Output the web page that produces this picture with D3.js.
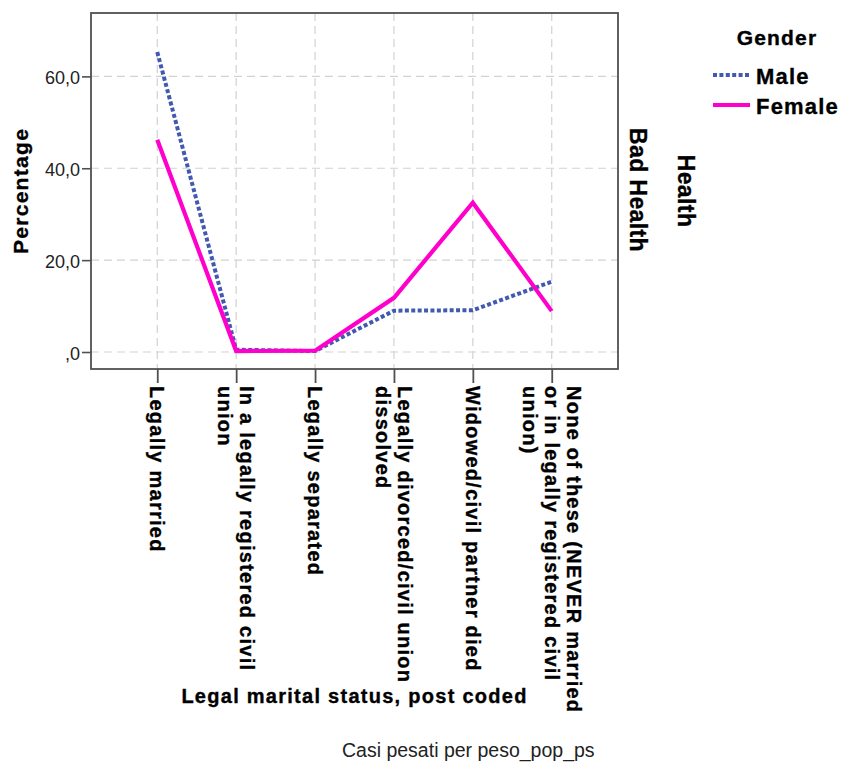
<!DOCTYPE html>
<html>
<head>
<meta charset="utf-8">
<script src="https://cdn.jsdelivr.net/npm/d3@7"></script>
<style>
  html, body { margin: 0; padding: 0; background: #fff; }
  svg { display: block; font-family: "Liberation Sans", Arial, sans-serif; }
  .b { font-weight: bold; stroke: #000; stroke-width: 0.35px; }
</style>
</head>
<body>
<svg id="chart" width="841" height="762"></svg>
<script>
const categories = [
  "Legally married",
  "In a legally registered civil union",
  "Legally separated",
  "Legally divorced/civil union dissolved",
  "Widowed/civil partner died",
  "None of these (NEVER married or in legally registered civil union)"
];
const categoryLabelLines = [
  ["Legally married"],
  ["In a legally registered civil", "union"],
  ["Legally separated"],
  ["Legally divorced/civil union", "dissolved"],
  ["Widowed/civil partner died"],
  ["None of these (NEVER married", "or in legally registered civil", "union)"]
];
const maleValues = [65.3, 0.5, 0.2, 9.0, 9.1, 15.3];
const femaleValues = [46.2, 0.2, 0.3, 11.8, 32.5, 8.9];
const yTicks = [0, 20, 40, 60];
const yTickLabels = [",0", "20,0", "40,0", "60,0"];
const seriesNames = ["Male", "Female"];

const svg = d3.select("#chart");
const frame = { left: 91, right: 618, top: 13, bottom: 369 };

const x = d3.scalePoint().domain(categories).range([frame.left, frame.right]).padding(0.84);
const y = d3.scaleLinear().domain([-3.7, 73.8]).range([frame.bottom, frame.top]);

const gridColor = "#d2d2d2";
const axisColor = "#505050";

// gridlines
const grid = svg.append("g");
grid.selectAll("line.h").data(yTicks).join("line")
  .attr("x1", frame.left).attr("x2", frame.right)
  .attr("y1", d => y(d)).attr("y2", d => y(d))
  .attr("stroke", gridColor).attr("stroke-width", 1.2).attr("stroke-dasharray", "8,5");
grid.selectAll("line.v").data(categories).join("line")
  .attr("x1", d => x(d)).attr("x2", d => x(d))
  .attr("y1", frame.top).attr("y2", frame.bottom)
  .attr("stroke", gridColor).attr("stroke-width", 1.2).attr("stroke-dasharray", "8,5");

// lines
const line = d3.line().x((d, i) => x(categories[i])).y(d => y(d));
svg.append("path").datum(maleValues)
  .attr("d", line).attr("fill", "none")
  .attr("stroke", "#4159b0").attr("stroke-width", 4).attr("stroke-dasharray", "4,2.4");
svg.append("path").datum(femaleValues)
  .attr("d", line).attr("fill", "none")
  .attr("stroke", "#ff00cc").attr("stroke-width", 4.2).attr("stroke-linejoin", "miter");

// frame
svg.append("rect")
  .attr("x", frame.left).attr("y", frame.top)
  .attr("width", frame.right - frame.left).attr("height", frame.bottom - frame.top)
  .attr("fill", "none").attr("stroke", axisColor).attr("stroke-width", 1.8);

// y axis
const yAxis = d3.axisLeft(y).tickValues(yTicks).tickSize(9).tickPadding(2)
  .tickFormat((d, i) => yTickLabels[i]);
const gy = svg.append("g").attr("transform", `translate(${frame.left},0)`).call(yAxis);
gy.select(".domain").remove();
gy.selectAll(".tick line").attr("stroke", axisColor).attr("stroke-width", 1.6);
gy.selectAll(".tick text").attr("fill", "#222").style("font-size", "18px")
  .style("font-family", "'Liberation Sans', Arial, sans-serif").attr("dy", "0.42em");

// x axis ticks
const xAxis = d3.axisBottom(x).tickSize(14).tickFormat("");
const gx = svg.append("g").attr("transform", `translate(0,${frame.bottom})`).call(xAxis);
gx.select(".domain").remove();
gx.selectAll(".tick line").attr("stroke", axisColor).attr("stroke-width", 1.8);

// x tick labels, rotated 90deg
const lh = 22;
categories.forEach((c, i) => {
  const lines = categoryLabelLines[i];
  const n = lines.length;
  const t = svg.append("text").attr("class", "b")
    .attr("transform", `translate(${x(c)},${frame.bottom + 17}) rotate(90)`)
    .style("font-size", "20px").style("letter-spacing", "1.25px")
    .attr("fill", "#000");
  lines.forEach((ln, k) => {
    t.append("tspan").attr("x", 0).attr("y", (k - (n - 1) / 2) * lh + 7).text(ln);
  });
});

// axis titles
svg.append("text").attr("class", "b")
  .attr("transform", `translate(${(frame.left + frame.right) / 2},${703})`)
  .attr("text-anchor", "middle")
  .style("font-size", "20px").style("letter-spacing", "1.27px")
  .text("Legal marital status, post coded");

svg.append("text").attr("class", "b")
  .attr("transform", `translate(28,${191}) rotate(-90)`)
  .attr("text-anchor", "middle")
  .style("font-size", "21px").style("letter-spacing", "1.3px")
  .text("Percentage");

// panel labels
svg.append("text").attr("class", "b")
  .attr("transform", `translate(630,${190}) rotate(90)`)
  .attr("text-anchor", "middle")
  .style("font-size", "23px").style("letter-spacing", "0.4px")
  .text("Bad Health");
svg.append("text").attr("class", "b")
  .attr("transform", `translate(678,${191}) rotate(90)`)
  .attr("text-anchor", "middle")
  .style("font-size", "23px").style("letter-spacing", "0.4px")
  .text("Health");

// legend
const lg = svg.append("g");
lg.append("text").attr("class", "b").attr("x", 777).attr("y", 45).attr("text-anchor", "middle")
  .style("font-size", "21px").style("letter-spacing", "1.2px")
  .text("Gender");
const legendStyles = [
  { color: "#4159b0", dash: "4,2.4" },
  { color: "#ff00cc", dash: null }
];
seriesNames.forEach((s, i) => {
  const yy = 75 + i * 30;
  lg.append("line").attr("x1", 713).attr("x2", 750).attr("y1", yy).attr("y2", yy)
    .attr("stroke", legendStyles[i].color).attr("stroke-width", 4)
    .attr("stroke-dasharray", legendStyles[i].dash);
  lg.append("text").attr("class", "b").attr("x", 756).attr("y", yy + 9)
    .style("font-size", "22px").style("letter-spacing", "1.2px")
    .text(s);
});

// footer
svg.append("text").attr("x", 342).attr("y", 757)
  .style("font-size", "19.5px").attr("fill", "#222")
  .text("Casi pesati per peso_pop_ps");
</script>
</body>
</html>
